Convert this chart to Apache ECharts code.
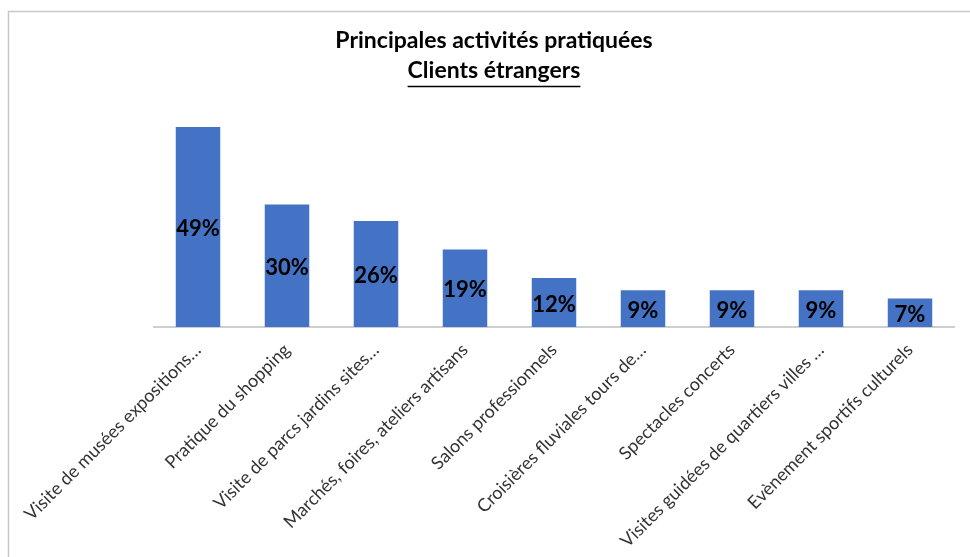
<!DOCTYPE html>
<html>
<head>
<meta charset="utf-8">
<script src="https://cdn.jsdelivr.net/npm/echarts@6/dist/echarts.min.js"></script>
<style>
  html, body { margin: 0; padding: 0; background: #fff; }
  #chart { width: 970px; height: 557px; }
</style>
</head>
<body>
<div id="chart"></div>
<script>
// Activities and share of foreign clients (%)
const categories = [
  'Visite de musées expositions…',
  'Pratique du shopping',
  'Visite de parcs jardins sites…',
  'Marchés, foires, ateliers artisans',
  'Salons professionnels',
  'Croisières fluviales tours de…',
  'Spectacles concerts',
  'Visites guidées de quartiers villes …',
  'Evènement sportifs culturels'
];
const values = [49, 30, 26, 19, 12, 9, 9, 9, 7];

const titleText = 'Principales activités pratiquées';
const subtitleText = 'Clients étrangers';

const FONT = 'Lato, "Liberation Sans", sans-serif';
const titleFont = 'bold 23px ' + FONT;

// width of the subtitle, for its underline
const ctx = document.createElement('canvas').getContext('2d');
ctx.font = titleFont;
const subW = ctx.measureText(subtitleText).width;
const cx = 494;

const chart = echarts.init(document.getElementById('chart'), null, { renderer: 'canvas' });
chart.setOption({
  backgroundColor: '#ffffff',
  animation: false,
  grid: { left: 153.5, right: 15.5, top: 127, bottom: 230 },
  xAxis: {
    type: 'category',
    data: categories,
    axisTick: { show: false },
    axisLine: { lineStyle: { color: '#BFBFBF', width: 1.5 } },
    axisLabel: {
      interval: 0,
      rotate: 45,
      margin: 20,
      fontSize: 18,
      fontFamily: FONT,
      color: '#333333'
    }
  },
  yAxis: {
    type: 'value',
    min: 0,
    max: 'dataMax',
    show: false,
    splitLine: { show: false }
  },
  series: [{
    type: 'bar',
    data: values,
    barWidth: '50%',
    itemStyle: { color: '#4472C4' },
    label: {
      show: true,
      position: 'inside',
      offset: [0, 2],
      formatter: '{c}%',
      fontSize: 22,
      fontWeight: 'bold',
      fontFamily: FONT,
      color: '#000'
    }
  }],
  graphic: [
    {
      type: 'rect',
      silent: true,
      shape: { x: 8.5, y: 11.5, width: 1000, height: 600 },
      style: { fill: 'none', stroke: '#C8C8C8', lineWidth: 1.5 }
    },
    {
      type: 'text',
      x: cx, y: 52,
      style: { text: titleText, font: titleFont, fill: '#000', textAlign: 'center', textVerticalAlign: 'bottom' }
    },
    {
      type: 'text',
      x: cx, y: 82,
      style: { text: subtitleText, font: titleFont, fill: '#000', textAlign: 'center', textVerticalAlign: 'bottom' }
    },
    {
      type: 'line',
      shape: { x1: cx - subW / 2, y1: 86.5, x2: cx + subW / 2, y2: 86.5 },
      style: { stroke: '#000', lineWidth: 1.5 }
    }
  ]
});
</script>
</body>
</html>
